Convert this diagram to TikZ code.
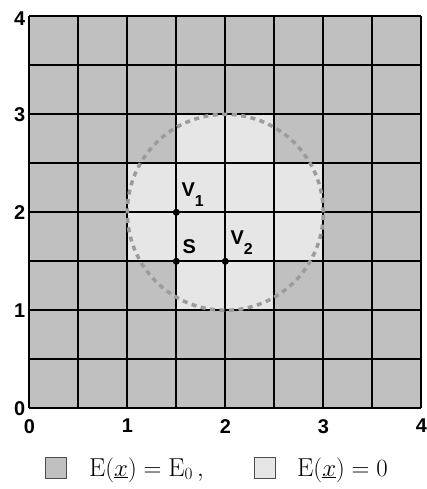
\documentclass[tikz,border=0pt]{standalone}
\usepackage{fontspec}
\setsansfont{Liberation Sans}
\usetikzlibrary{calc}
\definecolor{darkcell}{HTML}{C0C0C0}
\definecolor{lightcell}{HTML}{E6E6E6}
\definecolor{circgray}{HTML}{9C9C9C}
\begin{document}
\begin{tikzpicture}[x=1bp,y=-1bp,
  gridline/.style={line width=2bp,black},
  circline/.style={line width=3.5bp,circgray,dash pattern=on 5bp off 4.5bp},
  dot/.style={circle,fill=black,inner sep=0pt,minimum size=7bp},
  axlab/.style={font=\fontsize{20}{24}\selectfont\sffamily\bfseries,inner sep=0pt},
  ptlab/.style={font=\fontsize{20}{24}\selectfont\sffamily\bfseries,inner sep=0pt,anchor=south west},
  swatch/.style={draw=black!70,line width=0.8bp,minimum size=21bp,inner sep=0pt},
  legtext/.style={font=\fontsize{26}{30}\selectfont,inner sep=0pt,anchor=base west}]
\useasboundingbox (0,0) rectangle (426,489);
% cells
\fill[darkcell] (29.3,16.3) rectangle (421.3,408.3);
\fill[lightcell] (176.3,114.3) rectangle (274.3,310.3);
\fill[lightcell] (127.3,163.3) rectangle (323.3,261.3);
% grid
\foreach \i in {0,...,8} {
  \draw[gridline] (29.3+49*\i,16.3) -- (29.3+49*\i,408.3);
  \draw[gridline] (29.3,16.3+49*\i) -- (421.3,16.3+49*\i);
}
% dashed circle
\draw[circline] (225.3,212.3) circle (98bp);
% points
\node[dot] (V1) at (176.3,212.3) {};
\node[dot] (S) at (176.3,261.3) {};
\node[dot] (V2) at (225.3,261.3) {};
\node[ptlab] (V1l) at ($(V1)+(5,-6)$) {V\raisebox{-0.5em}{\fontsize{16}{16}\selectfont 1}};
\node[ptlab] (Sl) at ($(S)+(6,-7)$) {S};
\node[ptlab] (V2l) at ($(V2)+(5,-7)$) {V\raisebox{-0.5em}{\fontsize{16}{16}\selectfont 2}};
% y axis labels
\node[axlab,anchor=east] (y0) at (25.5,409) {0};
\node[axlab,anchor=east] (y1) at (25.5,310.3) {1};
\node[axlab,anchor=east] (y2) at (25.5,212.3) {2};
\node[axlab,anchor=east] (y3) at (25.5,114.8) {3};
\node[axlab,anchor=east] (y4) at (25.5,19) {4};
% x axis labels
\node[axlab,anchor=north] (x0) at (29.3,419) {0};
\node[axlab,anchor=north] (x1) at (127.3,419) {1};
\node[axlab,anchor=north] (x2) at (225.3,419) {2};
\node[axlab,anchor=north] (x3) at (323.3,419) {3};
\node[axlab,anchor=north] (x4) at (421.3,419) {4};
% legend
\node[swatch,fill=darkcell] (sw1) at (56,468) {};
\node[legtext] (t1) at (89,476) {$\mathrm{E}(\underline{x}) = \mathrm{E}_0\,,$};
\node[swatch,fill=lightcell] (sw2) at (264.5,468) {};
\node[legtext] (t2) at (297,476) {$\mathrm{E}(\underline{x}) = 0$};
\end{tikzpicture}
\end{document}
